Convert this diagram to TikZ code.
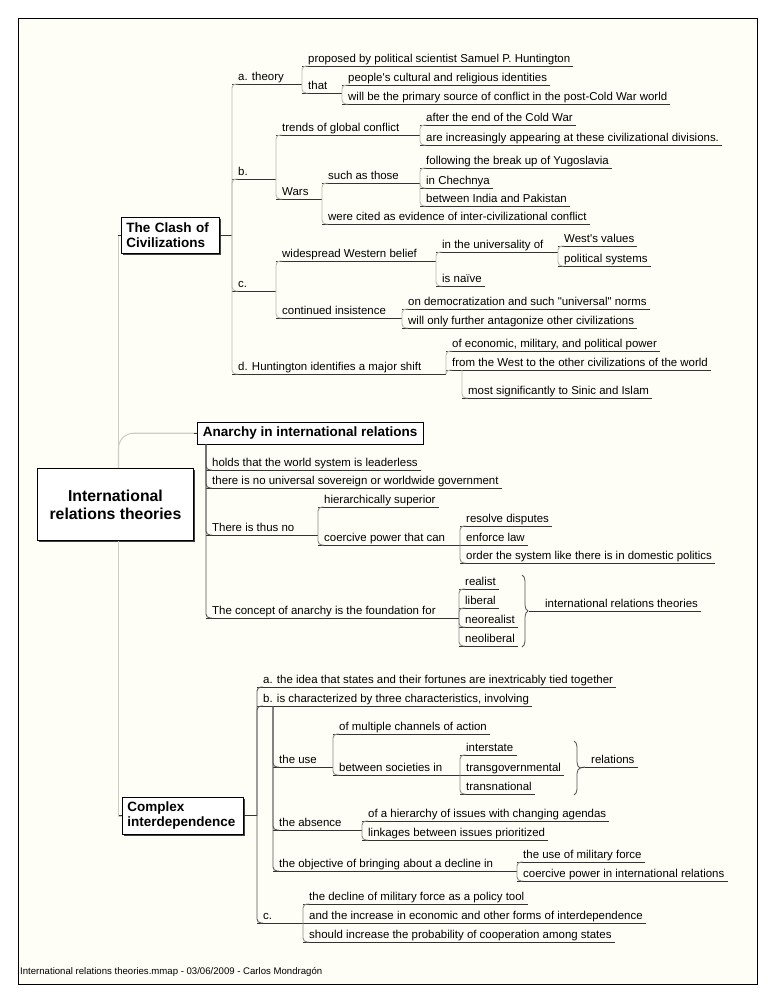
\documentclass[tikz,border=0pt]{standalone}
\usepackage{fontspec}
\setmainfont{Liberation Sans}
\usetikzlibrary{decorations.pathreplacing,shadows}
\definecolor{bg}{HTML}{FEFEF7}
\definecolor{ulc}{HTML}{333333}
\definecolor{lgc}{HTML}{B9B9B1}
\definecolor{mgc}{HTML}{8A8A8A}
\definecolor{dgc}{HTML}{555555}
\definecolor{spc}{HTML}{CDCDC5}
\tikzset{
 tp/.style={anchor=south west, inner sep=0pt, text height=8.6pt, text depth=3pt,
   font=\fontsize{11.45}{13}\selectfont,
   execute at begin node={\hspace*{6pt}}, execute at end node={\hspace*{3pt}}},
 ul/.style={draw=ulc, line width=0.95pt},
 cL/.style={draw=lgc, line width=0.9pt, rounded corners=4pt},
 cM/.style={draw=mgc, line width=0.9pt, rounded corners=4pt},
 cD/.style={draw=dgc, line width=0.9pt, rounded corners=4pt},
 spine/.style={draw=spc, line width=1.1pt},
 box/.style={draw=black, line width=0.9pt, fill=white,
   font=\fontsize{13.5}{15}\selectfont\bfseries,
   drop shadow={shadow xshift=1.1pt, shadow yshift=-1.1pt, fill=black!75, opacity=1}},
 brc/.style={draw=dgc, line width=0.8pt, decorate, decoration={brace, amplitude=6pt}},
 foot/.style={anchor=base west, inner sep=0pt, font=\fontsize{9.6}{11}\selectfont}
}
\newcommand\Tpc[3]{\node[tp] (#1) at (#2) {#3}; \draw[ul] (#1.south west) -- (#1.south east);}
\newcommand\Lnk[3]{\draw[ul] (#2.south east) -- (#3.south west |- #2.south east);
  \draw[#1] (#3.south west |- #2.south east) |- ([xshift=6pt]#3.south west);}
\newcommand\Hng[3]{\draw[#1] (#2) |- ([xshift=6pt]#3.south west);}
\newcommand\Sam[2]{\draw[ul] (#1.south east) -- (#2.south west);}
\begin{document}
\begin{tikzpicture}[x=1pt,y=-1pt]
\fill[white] (0,0) rectangle (768,994);
\draw[black, line width=0.9pt, fill=bg] (18.5,18.5) rectangle (757,984);
\useasboundingbox (0,0) rectangle (768,994);

% main boxes
\node[box, anchor=north west, minimum width=156pt, minimum height=72pt, align=center, inner sep=0pt,
  font=\fontsize{15.8}{18}\selectfont\bfseries] (root) at (37,468) {International\\relations theories};
\node[box, anchor=north west, text width=88pt, inner xsep=5pt, inner ysep=0pt, minimum height=36pt, align=left] (clash) at (121,217) {The Clash of\\Civilizations};
\node[box, anchor=north west, inner xsep=5.5pt, inner ysep=0pt, minimum height=21.5pt, text height=9.7pt, text depth=2.9pt] (anarchy) at (197,422) {Anarchy in international relations};
\node[box, anchor=north west, text width=111pt, inner xsep=5pt, inner ysep=0pt, minimum height=37pt, align=left] (complex) at (122,797) {Complex\\interdependence};

% spine
\coordinate (sp) at (118.5,468);
\draw[spine] (root.north -| sp) |- (clash.west);
\draw[spine, rounded corners=15pt] (root.north -| sp) |- (anarchy.west);
\draw[spine] (root.south -| sp) |- (complex.west);
\draw[ul] (clash.west) -- ++(-3,0);
\draw[ul] (anarchy.west) -- ++(-3,0);
\draw[ul] (complex.west) -- ++(-3,0);

% ===== The Clash of Civilizations =====
\coordinate (CJ) at (232,0 |- clash.east);
\draw[ul] (clash.east) -- (CJ);
\Tpc{a}{232,84}{a. theory}
\Tpc{b}{232,179}{b.}
\Tpc{c}{232,291}{c.}
\Tpc{d}{232,374}{d. Huntington identifies a major shift}
\Hng{cL}{CJ}{a} \Hng{cL}{CJ}{b} \Hng{cL}{CJ}{c} \Hng{cL}{CJ}{d}

\Tpc{a1}{302,66}{proposed by political scientist Samuel P. Huntington}
\Tpc{a2}{302,93}{that}
\Lnk{cL}{a}{a1} \Lnk{cL}{a}{a2}
\Tpc{a21}{342,85}{people\textquotesingle s cultural and religious identities}
\Tpc{a22}{342,104}{will be the primary source of conflict in the post-Cold War world}
\Lnk{cL}{a2}{a21} \Lnk{cL}{a2}{a22}

\Tpc{b1}{276,135}{trends of global conflict}
\Tpc{b2}{276,199}{Wars}
\Lnk{cL}{b}{b1} \Lnk{cL}{b}{b2}
\Tpc{b11}{420,125}{after the end of the Cold War}
\Tpc{b12}{420,145}{are increasingly appearing at these civilizational divisions.}
\Lnk{cL}{b1}{b11} \Lnk{cL}{b1}{b12}
\Tpc{b21}{322,183}{such as those}
\Tpc{b22}{322,224}{were cited as evidence of inter-civilizational conflict}
\Lnk{cL}{b2}{b21} \Lnk{cL}{b2}{b22}
\Tpc{b211}{420,168}{following the break up of Yugoslavia}
\Tpc{b212}{420,188}{in Chechnya}
\Tpc{b213}{420,206}{between India and Pakistan}
\Lnk{cL}{b21}{b211} \Lnk{cL}{b21}{b212} \Lnk{cL}{b21}{b213}

\Tpc{c1}{276,261}{widespread Western belief}
\Tpc{c2}{276,318}{continued insistence}
\Lnk{cL}{c}{c1} \Lnk{cL}{c}{c2}
\Tpc{c11}{436,252}{in the universality of}
\Tpc{c12}{436,286}{is naïve}
\Lnk{cL}{c1}{c11} \Lnk{cL}{c1}{c12}
\Tpc{c111}{558,246}{West\textquotesingle s values}
\Tpc{c112}{558,266}{political systems}
\Lnk{cL}{c11}{c111} \Lnk{cL}{c11}{c112}
\Tpc{c21}{402,309}{on democratization and such \textquotedbl universal\textquotedbl\ norms}
\Tpc{c22}{402,328}{will only further antagonize other civilizations}
\Lnk{cL}{c2}{c21} \Lnk{cL}{c2}{c22}

\Tpc{d1}{446,351}{of economic, military, and political power}
\Tpc{d2}{446,370}{from the West to the other civilizations of the world}
\Lnk{cL}{d}{d1} \Lnk{cL}{d}{d2}
\coordinate (DJ) at ([xshift=16pt]d2.south west);
\Tpc{d21}{DJ |- 0,398}{most significantly to Sinic and Islam}
\Hng{cL}{DJ}{d21}

% ===== Anarchy =====
\coordinate (AJ) at ([xshift=9pt]anarchy.south west);
\Tpc{n1}{AJ |- 0,470}{holds that the world system is leaderless}
\Tpc{n2}{AJ |- 0,488}{there is no universal sovereign or worldwide government}
\Tpc{n3}{AJ |- 0,535}{There is thus no}
\Tpc{n4}{AJ |- 0,618}{The concept of anarchy is the foundation for}
\Hng{cD}{AJ}{n1} \Hng{cD}{AJ}{n2} \Hng{cD}{AJ}{n3} \Hng{cD}{AJ}{n4}
\Tpc{n31}{318,507}{hierarchically superior}
\Tpc{n32}{318,545}{coercive power that can}
\Lnk{cM}{n3}{n31} \Lnk{cM}{n3}{n32}
\Tpc{n321}{460,526}{resolve disputes}
\Tpc{n322}{460,545}{enforce law}
\Tpc{n323}{460,563}{order the system like there is in domestic politics}
\Lnk{cM}{n32}{n321} \Sam{n32}{n322} \Lnk{cM}{n32}{n323}
\Tpc{n41}{459,589}{realist}
\Tpc{n42}{459,608}{liberal}
\Tpc{n43}{459,627}{neorealist}
\Tpc{n44}{459,646}{neoliberal}
\Lnk{cM}{n4}{n41} \Lnk{cM}{n4}{n42} \Lnk{cM}{n4}{n43} \Lnk{cM}{n4}{n44}
\draw[brc] (522,575) -- (522,647);
\coordinate (T1) at (529,611);
\Tpc{n5}{539,611}{international relations theories}
\draw[ul] (T1) -- (n5.south west);

% ===== Complex interdependence =====
\coordinate (XJ) at (257,0 |- complex.east);
\draw[ul] (complex.east) -- (XJ);
\Tpc{x1}{257,687}{a. the idea that states and their fortunes are inextricably tied together}
\Tpc{x2}{257,706}{b. is characterized by three characteristics, involving}
\Tpc{x3}{257,923}{c.}
\Hng{cD}{XJ}{x1} \Hng{cD}{XJ}{x2} \Hng{cD}{XJ}{x3}
\coordinate (J2) at ([xshift=16pt]x2.south west);
\Tpc{x21}{J2 |- 0,767}{the use}
\Tpc{x22}{J2 |- 0,830}{the absence}
\Tpc{x23}{J2 |- 0,871}{the objective of bringing about a decline in}
\Hng{cD}{J2}{x21} \Hng{cD}{J2}{x22} \Hng{cD}{J2}{x23}
\Tpc{x211}{333,734}{of multiple channels of action}
\Tpc{x212}{333,775}{between societies in}
\Lnk{cM}{x21}{x211} \Lnk{cM}{x21}{x212}
\Tpc{x2121}{460,755}{interstate}
\Tpc{x2122}{460,775}{transgovernmental}
\Tpc{x2123}{460,794}{transnational}
\Lnk{cM}{x212}{x2121} \Sam{x212}{x2122} \Lnk{cM}{x212}{x2123}
\draw[brc] (574,741) -- (574,795);
\coordinate (T2) at (580,768);
\Tpc{x2124}{585,767}{relations}
\draw[ul] (T2) -- (x2124.south west);
\Tpc{x221}{362,821}{of a hierarchy of issues with changing agendas}
\Tpc{x222}{362,840}{linkages between issues prioritized}
\Lnk{cM}{x22}{x221} \Lnk{cM}{x22}{x222}
\Tpc{x231}{517,862}{the use of military force}
\Tpc{x232}{517,881}{coercive power in international relations}
\Lnk{cM}{x23}{x231} \Lnk{cM}{x23}{x232}
\Tpc{x31}{303,904}{the decline of military force as a policy tool}
\Tpc{x32}{303,923}{and the increase in economic and other forms of interdependence}
\Tpc{x33}{303,942}{should increase the probability of cooperation among states}
\Lnk{cM}{x3}{x31} \Sam{x3}{x32} \Lnk{cM}{x3}{x33}

% footer
\node[foot] (ft) at (20,974) {International relations theories.mmap - 03/06/2009 - Carlos Mondragón};
\end{tikzpicture}
\end{document}
